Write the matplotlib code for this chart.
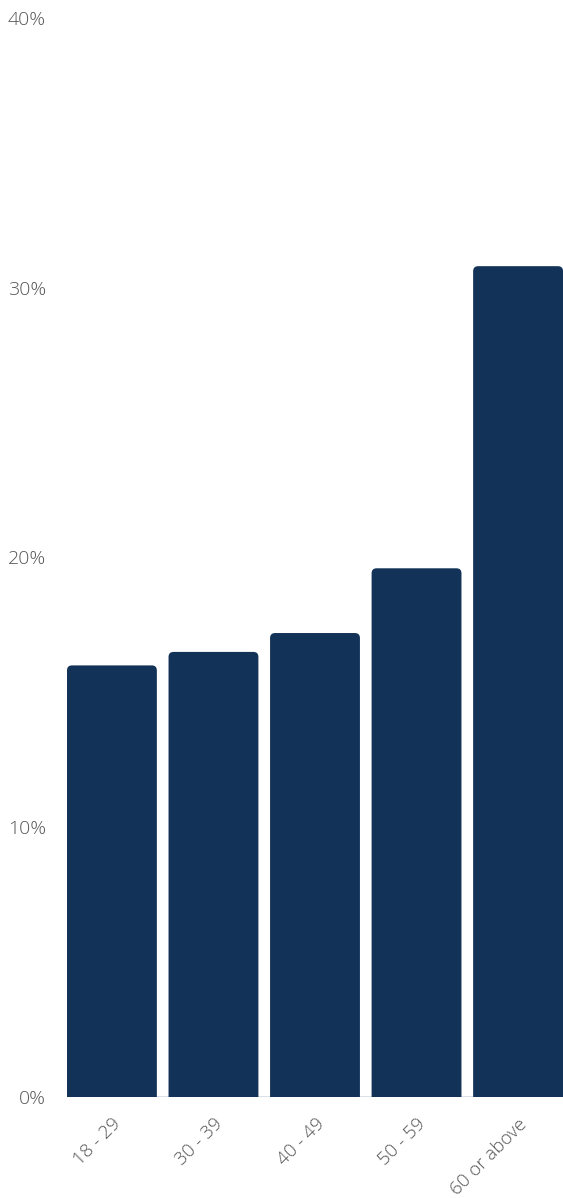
import matplotlib
matplotlib.use("Agg")
import matplotlib.pyplot as plt
from matplotlib.patches import FancyBboxPatch
from matplotlib.ticker import FixedLocator, FuncFormatter

plt.rcParams['font.family'] = ['Open Sans', 'DejaVu Sans']

# 年龄组和占比
groups = ['18 - 29', '30 - 39', '40 - 49', '50 - 59', '60 or above']
share = [16.0, 16.5, 17.2, 19.6, 30.8]
yticks = [0, 10, 20, 30, 40]

bar_color = '#133257'
text_color = '#555555'

fig = plt.figure(figsize=(5.63, 11.98), dpi=100)
ax = fig.add_axes([67/563, 101/1198, 496/563, 1079/1198])

x = list(range(len(groups)))
width = 0.885
bars = ax.bar(x, share, width=width, color=bar_color)

ax.set_xlim(-width/2, len(groups) - 1 + width/2)
ax.set_ylim(0, 40)

# 圆角顶部：用 FancyBboxPatch 替换普通矩形
px_x = 496 / (ax.get_xlim()[1] - ax.get_xlim()[0])
px_y = 1079 / 40
aspect = px_x / px_y
r = 5 / px_x
for b in bars:
    b.set_visible(False)
    p = FancyBboxPatch((b.get_x(), -2), b.get_width(), b.get_height() + 2,
                       boxstyle="round,pad=0,rounding_size=%f" % r,
                       mutation_aspect=aspect, fc=bar_color, ec='none',
                       clip_on=True)
    ax.add_patch(p)

ax.axhline(0, color='#d5dbe3', lw=1.2, zorder=0)

for s in ax.spines.values():
    s.set_visible(False)

ax.yaxis.set_major_locator(FixedLocator(yticks))
ax.yaxis.set_major_formatter(FuncFormatter(lambda v, p: '%d%%' % v))
ax.tick_params(axis='y', length=0, pad=15, labelsize=14, labelcolor=text_color)
for t in ax.get_yticklabels():
    t.set_fontweight('light')

ax.set_xticks(x)
ax.set_xticklabels(groups, rotation=45, ha='right', rotation_mode='anchor',
                   fontsize=13.5, color=text_color, fontweight='light')
ax.tick_params(axis='x', length=0, pad=13)

fig.savefig('out.png', dpi=100)
